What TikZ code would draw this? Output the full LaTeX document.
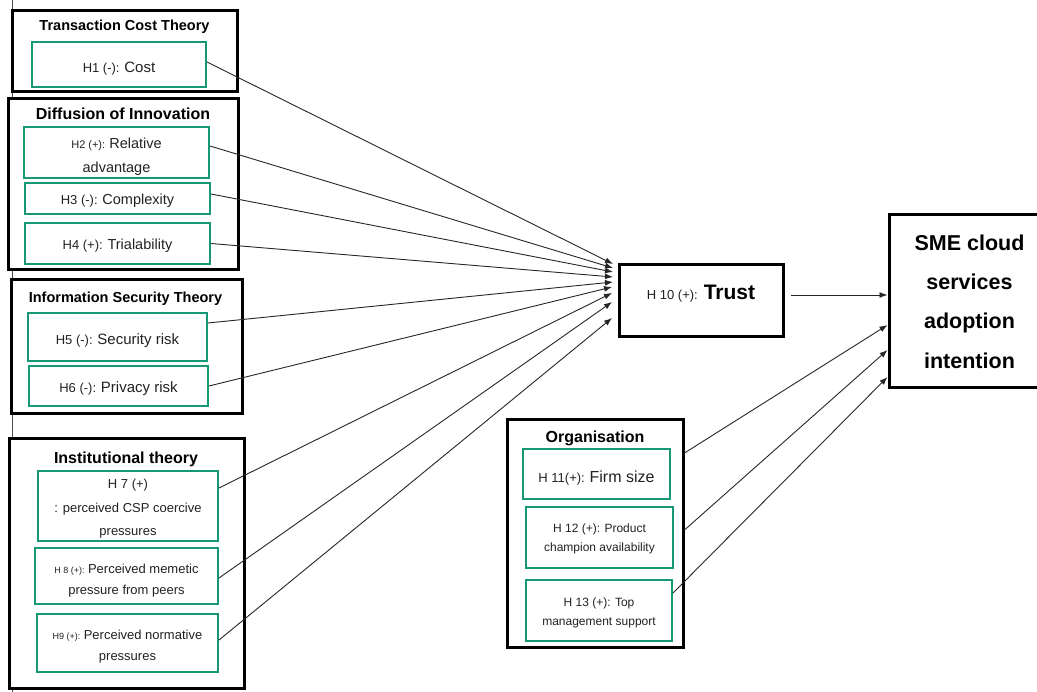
\documentclass[tikz,border=0pt]{standalone}
\usepackage{fontspec}
\setmainfont{Liberation Sans}
\usetikzlibrary{arrows.meta,calc}
\definecolor{grn}{RGB}{22,152,118}
\definecolor{txt}{RGB}{34,34,34}
\newcommand\sz[2][24]{\fontsize{#2}{#1}\selectfont}
\begin{document}
\begin{tikzpicture}[x=1pt,y=-1pt,
  obox/.style={draw=black, line width=3pt, fill=white, inner sep=0pt},
  gbox/.style={draw=grn, line width=2pt, fill=white, inner sep=0pt, align=center, text=txt, font={\sz{14}}},
  ttl/.style={anchor=base, text=black, inner sep=0pt},
  arr/.style={draw=black!85, line width=0.9pt, -{Latex[length=8pt,width=6pt]}}
]
\path[use as bounding box] (0,0) rectangle (1037,692);
\begin{scope}
\clip (0,0) rectangle (1037,692);
\draw[line width=0.8pt, black!70] (12,0) -- (12,692);

% group boxes
\node[obox, minimum width=225pt, minimum height=81pt] (tct) at (124.5,51.5) {};
\node[obox, minimum width=230pt, minimum height=171pt] (doi) at (123,184.5) {};
\node[obox, minimum width=231pt, minimum height=134pt] (ist) at (126.5,347) {};
\node[obox, minimum width=235pt, minimum height=249pt] (it) at (126.5,563.5) {};
\node[obox, minimum width=176pt, minimum height=227pt] (org) at (595,533.5) {};

% titles
\node[ttl, font={\bfseries\sz{14.5}}] (tctT) at (124.5,31) {Transaction Cost Theory};
\node[ttl, font={\bfseries\sz{16}}] (doiT) at (123,119.5) {Diffusion of Innovation};
\node[ttl, font={\bfseries\sz{14.5}}] (istT) at (125.5,303) {Information Security Theory};
\node[ttl, font={\bfseries\sz{16}}] (itT) at (126,464) {Institutional theory};
\node[ttl, font={\bfseries\sz{16}}] (orgT) at (595,443) {Organisation};

% hypothesis boxes
\node[gbox, minimum width=174pt, minimum height=45pt, text height=18.6pt, text depth=3pt] (h1) at (119,64.5) {{\sz{13}H1 (-): }{\sz{15}Cost}};
\node[gbox, minimum width=185pt, minimum height=51pt, text height=44pt, text depth=3pt] (h2) at (116.5,152.5) {{\sz{11}H2 (+): }{\sz{14.5}Relative}\\{\sz{14.5}advantage}};
\node[gbox, minimum width=185pt, minimum height=31pt, text height=16pt, text depth=3pt] (h3) at (117.5,198.5) {{\sz{13}H3 (-): }{\sz{14.5}Complexity}};
\node[gbox, minimum width=185pt, minimum height=41pt, text height=16pt, text depth=3pt] (h4) at (117.5,243.5) {{\sz{13}H4 (+): }{\sz{14.5}Trialability}};
\node[gbox, minimum width=179pt, minimum height=48pt, text height=19pt, text depth=3pt] (h5) at (117.5,337) {{\sz{13}H5 (-): }{\sz{15}Security risk}};
\node[gbox, minimum width=179pt, minimum height=40pt, text height=17pt, text depth=3pt] (h6) at (118.5,386) {{\sz{13}H6 (-): }{\sz{15}Privacy risk}};
\node[gbox, minimum width=180pt, minimum height=70pt, font={\sz[23.5]{13}}, text height=63pt, text depth=3pt] (h7) at (128,506) {H 7 (+)\\: perceived CSP coercive\\pressures};
\node[gbox, minimum width=183pt, minimum height=56pt, font={\sz[21]{13}}, text height=40pt, text depth=3pt] (h8) at (126.5,576) {{\sz[21]{9}H 8 (+): }Perceived memetic\\pressure from peers};
\node[gbox, minimum width=181pt, minimum height=58pt, font={\sz[21]{13}}, text height=38.4pt, text depth=3pt] (h9) at (127.5,643) {{\sz[21]{9}H9 (+): }Perceived normative\\pressures};
\node[gbox, minimum width=147pt, minimum height=50pt, text height=21pt, text depth=3pt] (h11) at (596.5,474) {{\sz{13}H 11(+): }{\sz{16}Firm size}};
\node[gbox, minimum width=147pt, minimum height=61pt, font={\sz[19.5]{12}}, text height=31.6pt, text depth=3pt] (h12) at (599.5,537.5) {H 12 (+): Product\\champion availability};
\node[gbox, minimum width=146pt, minimum height=61pt, font={\sz[19.7]{12}}, text height=33.4pt, text depth=3pt] (h13) at (599,610.5) {H 13 (+): Top\\management support};

% trust and outcome
\node[obox, minimum width=164pt, minimum height=72pt, text height=16pt, text depth=18pt] (trust) at (701,301) {{\color{txt}\sz{13}H 10 (+):}\hspace{6pt}{\bfseries\sz{21}Trust}};
\node[obox, minimum width=161pt, minimum height=173pt, align=center, font={\bfseries\sz[39.3]{21.5}}] (sme) at (969.5,301.5) {SME cloud\\services\\adoption\\intention};

% arrow tips at Trust
\coordinate (t1) at (613,264);
\coordinate (t2) at (613,268);
\coordinate (t3) at (613,272);
\coordinate (t4) at (613,277);
\coordinate (t5) at (613,282);
\coordinate (t6) at (612,287);
\coordinate (t7) at (612,293);
\coordinate (t8) at (612,302);
\coordinate (t9) at (612,318);

\draw[arr] ([yshift=2.5pt]h1.east) -- (t1);
\draw[arr] ([yshift=6.5pt]h2.east) -- (t2);
\draw[arr] ([yshift=4.5pt]h3.east) -- (t3);
\draw[arr] (h4.east) -- (t4);
\draw[arr] ([yshift=14pt]h5.east) -- (t5);
\draw[arr] (h6.east) -- (t6);
\draw[arr] ([yshift=18pt]h7.east) -- (t7);
\draw[arr] ([yshift=-2pt]h8.east) -- (t8);
\draw[arr] ([yshift=3pt]h9.east) -- (t9);

\draw[arr] ([xshift=6pt,yshift=6pt]trust.east) -- ([yshift=6.5pt]sme.west);
\draw[arr] ([yshift=80.5pt]org.east) -- ([yshift=-23.5pt]sme.west);
\draw[arr] ([yshift=3.5pt]org.east) -- ([yshift=-48.5pt]sme.west);
\draw[arr] ([yshift=17.5pt]h13.east) -- ([yshift=-75.5pt]sme.west);
\end{scope}
\end{tikzpicture}
\end{document}
